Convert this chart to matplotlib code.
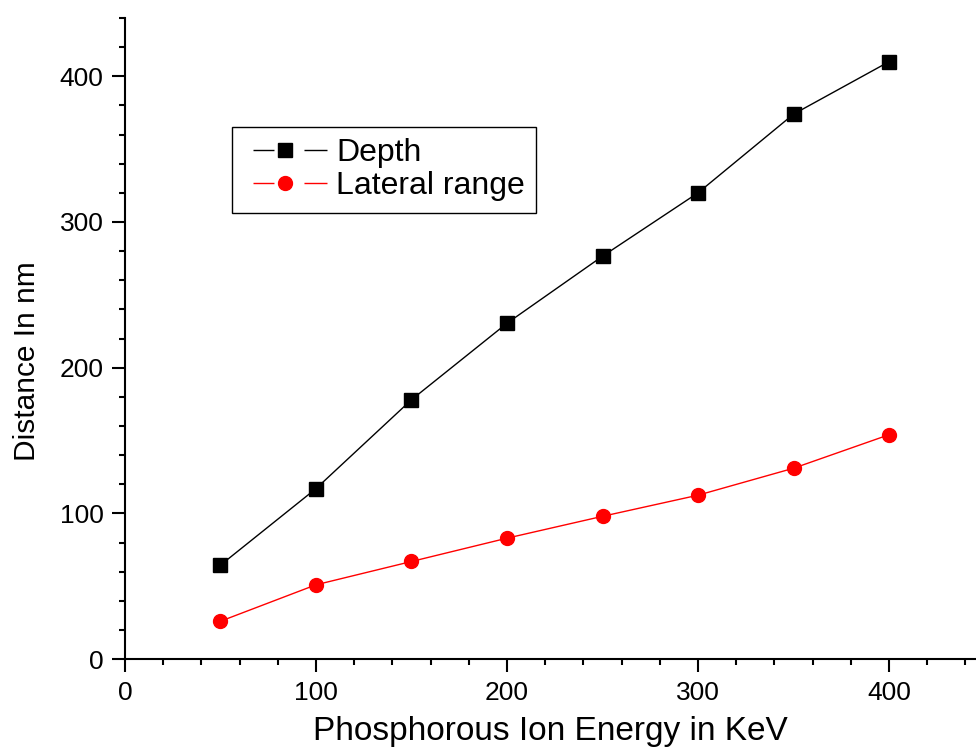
import matplotlib
matplotlib.use("Agg")
import matplotlib.pyplot as plt
from matplotlib.ticker import MultipleLocator
from matplotlib.lines import Line2D
from matplotlib.legend_handler import HandlerTuple

plt.rcParams['font.family'] = ['Liberation Sans', 'DejaVu Sans']

energy = [50, 100, 150, 200, 250, 300, 350, 400]
depth = [64.5, 117, 178, 230.5, 276.5, 320, 374, 410]
lateral = [26, 51, 67, 83, 98, 112.5, 131, 154]

fig = plt.figure(figsize=(9.76, 7.49), dpi=100)
ax = fig.add_axes([0.128, 0.120, 0.871, 0.856])

ax.plot(energy, depth, color='black', lw=1, marker='s', ms=9.5)
ax.plot(energy, lateral, color='red', lw=1, marker='o', ms=10)

ax.set_xlim(0, 445)
ax.set_ylim(0, 440)
ax.xaxis.set_major_locator(MultipleLocator(100))
ax.xaxis.set_minor_locator(MultipleLocator(20))
ax.yaxis.set_major_locator(MultipleLocator(100))
ax.yaxis.set_minor_locator(MultipleLocator(20))

for s in ['top', 'right']:
    ax.spines[s].set_visible(False)
for s in ['left', 'bottom']:
    ax.spines[s].set_linewidth(1.5)
ax.tick_params(which='major', direction='out', length=9.5, width=1.5, labelsize=19, pad=6)
ax.tick_params(which='minor', direction='out', length=4.5, width=1.5)

ax.set_xlabel('Phosphorous Ion Energy in KeV', fontsize=24)
ax.xaxis.set_label_coords(0.5, -0.088)
ax.set_ylabel('Distance In nm', fontsize=21.5)
ax.yaxis.set_label_coords(-0.099, 0.465)

# legend handles: gap - line - gap - marker - gap - line
dash = (0, (0.001, 7.2, 15.1, 21.6, 16.6, 20))
h_depth = (Line2D([], [], color='black', lw=1, ls=dash),
           Line2D([], [], color='black', ls='none', marker='s', ms=9.5))
h_lat = (Line2D([], [], color='red', lw=1, ls=dash),
         Line2D([], [], color='red', ls='none', marker='o', ms=10))

leg = ax.legend([h_depth, h_lat], ['Depth', 'Lateral range'],
                handler_map={tuple: HandlerTuple(ndivide=1)},
                loc='upper left', bbox_to_anchor=(0.126, 0.830), borderaxespad=0,
                fontsize=23, frameon=True, fancybox=False, edgecolor='black',
                framealpha=1, handlelength=2.63, handletextpad=0.28,
                borderpad=0.35, labelspacing=0.1)
leg.get_frame().set_linewidth(1)

fig.savefig('out.png', dpi=100)
